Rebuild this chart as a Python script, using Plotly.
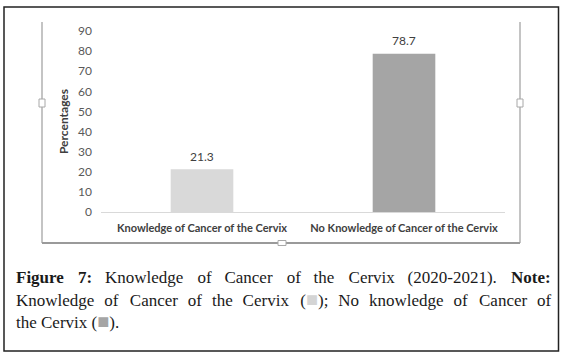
import plotly.graph_objects as go

categories = ["Knowledge of Cancer of the Cervix", "No Knowledge of Cancer of the Cervix"]
values = [21.3, 78.7]
bar_colors = ["#d9d9d9", "#a5a5a5"]
y_ticks = [0, 10, 20, 30, 40, 50, 60, 70, 80, 90]

W, H = 562, 355
L, R, T, B = 101, 57, 31, 143
PW, PH = W - L - R, H - T - B

def px(x):
    return (x - L) / PW

def py(y):
    return 1 - (y - T) / PH

SANS = "Lato, Carlito, sans-serif"

fig = go.Figure()
fig.add_trace(go.Bar(
    x=categories, y=values, marker_color=bar_colors, width=0.31,
    marker_line_width=0, hoverinfo="skip",
))

for c, v in zip(categories, values):
    fig.add_annotation(x=c, y=v, text=f"{v}", showarrow=False, yshift=13,
                       font=dict(family=SANS, size=12, color="#404040"))

shapes = []
# outer figure border
shapes.append(dict(type="rect", xref="paper", yref="paper", x0=px(4), x1=px(558.5), y0=py(351), y1=py(7),
                   line=dict(color="#222222", width=1.5)))
# chart frame
shapes.append(dict(type="line", xref="paper", yref="paper", x0=px(42), x1=px(42), y0=py(22), y1=py(243),
                   line=dict(color="#c4c4c4", width=2)))
shapes.append(dict(type="line", xref="paper", yref="paper", x0=px(520), x1=px(520), y0=py(22), y1=py(243),
                   line=dict(color="#c4c4c4", width=2)))
shapes.append(dict(type="line", xref="paper", yref="paper", x0=px(42), x1=px(520), y0=py(243), y1=py(243),
                   line=dict(color="#9a9a9a", width=2)))
# handles
for (hx, hy, w, h) in [(42, 103, 6, 8), (520, 103, 6, 8), (282, 243, 8, 5)]:
    shapes.append(dict(type="rect", xref="paper", yref="paper",
                       x0=px(hx - w / 2), x1=px(hx + w / 2), y0=py(hy + h / 2), y1=py(hy - h / 2),
                       line=dict(color="#a8a8a8", width=1), fillcolor="white"))

fig.update_layout(shapes=shapes)

sq_light = "<span style='color:#d4d4d4;font-size:20px'>■</span>"
sq_dark = "<span style='color:#a5a5a5;font-size:20px'>■</span>"
nb = "\u00a0"
hair = "\u200a"

def justify(words, gaps):
    out = words[0]
    for g, w in zip(gaps, words[1:]):
        out += g + w
    return out

words1 = ["<b>Figure</b>", "<b>7:</b>", "Knowledge", "of", "Cancer", "of", "the", "Cervix", "(2020-2021).", "<b>Note:</b>"]
gaps1 = [nb * 3 + (hair if i % 2 == 0 else "") for i in range(len(words1) - 1)]
words2 = ["Knowledge", "of", "Cancer", "of", "the", "Cervix", f"({sq_light});", "No", "knowledge", "of", "Cancer", "of"]
gaps2 = [nb * 2 + hair + (hair if i % 4 == 1 else "") for i in range(len(words2) - 1)]
line1 = justify(words1, gaps1)
line2 = justify(words2, gaps2)
line3 = f"the Cervix ({sq_dark})."

cap_font = dict(family="Liberation Serif, serif", size=17, color="#1a1a1a")
for txt, yb in [(line1, 285), (line2, 308), (line3, 330)]:
    fig.add_annotation(xref="paper", yref="paper", x=px(14), y=py(yb), text=txt, showarrow=False,
                       xanchor="left", yanchor="bottom", yshift=-4, font=cap_font, align="left")

fig.update_layout(
    width=W, height=H,
    margin=dict(l=L, r=R, t=T, b=B, pad=0),
    paper_bgcolor="white", plot_bgcolor="white",
    showlegend=False,
    xaxis=dict(showline=True, linecolor="#d9d9d9", linewidth=1, showgrid=False, ticks="",
               tickfont=dict(family=SANS, size=11, color="#404040", weight="bold"),
               ticklabelstandoff=6),
    yaxis=dict(range=[0, 90], tickvals=y_ticks, showgrid=False, zeroline=False, showline=False, ticks="",
               tickfont=dict(family=SANS, size=12, color="#595959"),
               ticklabelstandoff=8,
               title=dict(text="<b>Percentages</b>", standoff=6,
                          font=dict(family=SANS, size=12, color="#404040"))),
)

fig.write_html("out.html")
